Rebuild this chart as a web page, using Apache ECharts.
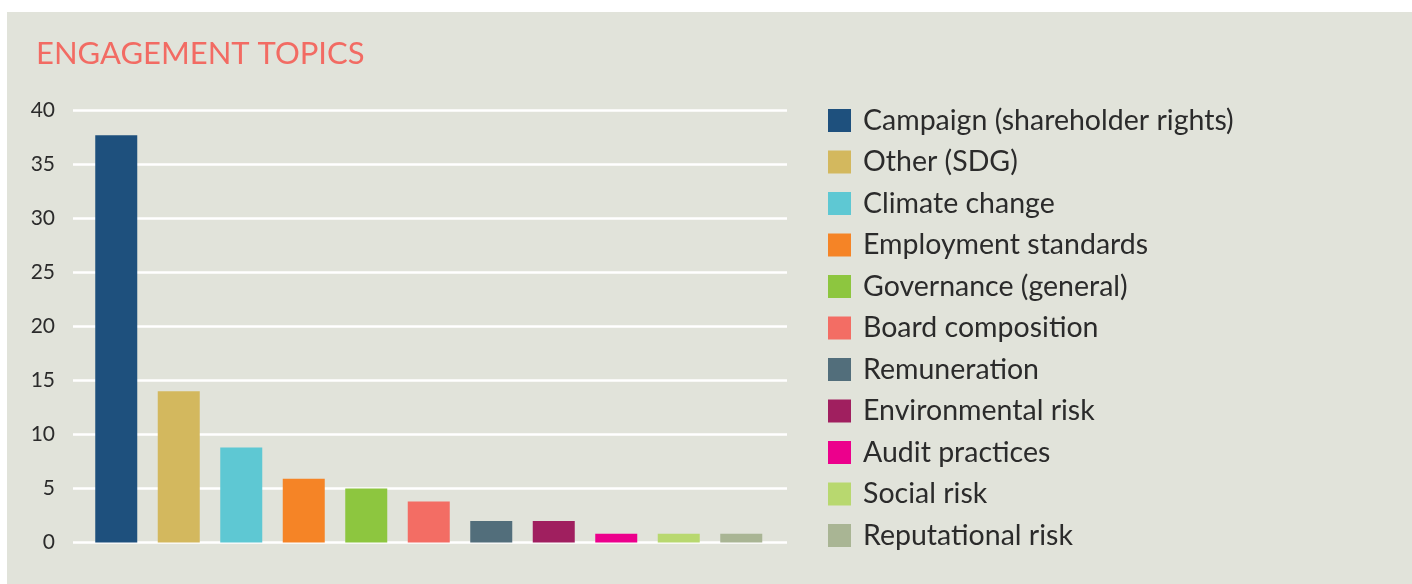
<!DOCTYPE html>
<html>
<head>
<meta charset="utf-8">
<script src="https://cdn.jsdelivr.net/npm/echarts@6/dist/echarts.min.js"></script>
<style>
  html, body { margin: 0; padding: 0; background: #ffffff; }
  #main { width: 1412px; height: 584px; }
</style>
</head>
<body>
<div id="main"></div>
<script>
var chartDom = document.getElementById('main');
var myChart = echarts.init(chartDom, null, { renderer: 'canvas' });

// 数据
var topics = [
    'Campaign (shareholder rights)', 'Other (SDG)', 'Climate change',
    'Employment standards', 'Governance (general)', 'Board composition',
    'Remuneration', 'Environmental risk', 'Audit practices',
    'Social risk', 'Reputational risk'
];
var counts = [37.7, 14.0, 8.8, 5.9, 5.0, 3.8, 2.0, 2.0, 0.8, 0.8, 0.8];
var topicColors = [
    '#1e507d', '#d3b85e', '#5ec8d3', '#f58426', '#8dc63f', '#f36d64',
    '#526e7b', '#a01f5f', '#ec008c', '#b8d86f', '#a9b594'
];
var yTicks = { min: 0, max: 40, interval: 5 };

var bgColor = '#e1e3da';
var textColor = '#2b2b2b';
var fontName = 'Lato';

// 每个话题一个 series，方便出图例
var series = topics.map(function (name, i) {
    var data = topics.map(function (_, j) { return j === i ? counts[i] : '-'; });
    return {
        name: name,
        type: 'bar',
        xAxisIndex: 1,
        yAxisIndex: 1,
        stack: 'topics',
        barWidth: 42,
        itemStyle: { color: topicColors[i] },
        data: data
    };
});

var option = {
    animation: false,
    backgroundColor: '#ffffff',
    graphic: [{
        type: 'rect',
        z: -10,
        shape: { x: 7, y: 12, width: 1405, height: 572 },
        style: { fill: bgColor }
    }],
    title: {
        text: 'ENGAGEMENT TOPICS',
        left: 31,
        top: 33,
        textStyle: {
            color: '#f26b63',
            fontFamily: fontName,
            fontWeight: 'normal',
            fontSize: 31
        }
    },
    legend: {
        orient: 'vertical',
        left: 828,
        top: 106,
        height: 470,
        padding: 0,
        icon: 'rect',
        itemWidth: 23,
        itemHeight: 23,
        itemGap: 12.5,
        selectedMode: false,
        textStyle: {
            color: textColor,
            fontFamily: fontName,
            fontSize: 28.5,
            lineHeight: 29,
            padding: [0, 0, 0, 7]
        },
        data: topics
    },
    grid: [
        { left: 73, right: 625, top: 110.5, bottom: 41.5 },   // 网格线
        { left: 85, right: 639.5, top: 110.5, bottom: 41.5 }  // 柱子
    ],
    xAxis: [
        { gridIndex: 0, type: 'value', show: false, min: 0, max: 1 },
        { gridIndex: 1, type: 'category', show: false, data: topics }
    ],
    yAxis: [
        {
            gridIndex: 0,
            type: 'value',
            min: yTicks.min,
            max: yTicks.max,
            interval: yTicks.interval,
            axisLine: { show: false },
            axisTick: { show: false },
            axisLabel: {
                color: textColor,
                fontFamily: fontName,
                fontSize: 21,
                margin: 18,
                verticalAlign: 'middle',
                padding: [0, 0, 16, 0]
            },
            splitLine: { lineStyle: { color: '#ffffff', width: 2.5 } }
        },
        {
            gridIndex: 1,
            type: 'value',
            show: false,
            min: yTicks.min,
            max: yTicks.max,
            splitLine: { show: false }
        }
    ],
    series: series
};

myChart.setOption(option);
</script>
</body>
</html>
